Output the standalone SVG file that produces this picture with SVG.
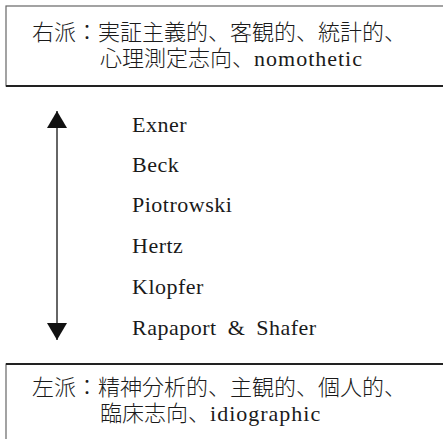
<svg xmlns="http://www.w3.org/2000/svg" width="443" height="439" viewBox="0 0 443 439">
  <style>
    .box { fill: #ffffff; stroke: #666666; stroke-width: 1.2; }
    .edge { stroke: #222222; stroke-width: 2; }
    .t { font-family: "Liberation Serif", "Noto Sans CJK JP", serif; font-size: 22px; font-weight: 300; fill: #1a1a1a; }
    .lat { letter-spacing: 1px; font-weight: 400; }
    .name { font-family: "Liberation Serif", "Noto Sans CJK JP", serif; font-size: 22px; fill: #1a1a1a; letter-spacing: 0.5px; }
    .conn { stroke: #333333; stroke-width: 1.5; fill: none; }
  </style>
  <defs>
    <marker id="head" markerUnits="userSpaceOnUse" markerWidth="18" markerHeight="20" viewBox="0 0 18 20" refX="17" refY="10" orient="auto-start-reverse">
      <path d="M0,0 L17,10 L0,20 Z" fill="#111111"/>
    </marker>
  </defs>
  <rect width="443" height="439" fill="#ffffff"/>

  <g id="node-right">
    <rect class="box" x="6" y="6" width="445" height="80"/>
    <line class="edge" x1="6" y1="86" x2="443" y2="86"/>
    <text class="t" x="32" y="40">右派：実証主義的、客観的、統計的、</text>
    <text class="t" x="100" y="66">心理測定志向、<tspan class="lat">nomothetic</tspan></text>
  </g>

  <g id="connectors">
    <line class="conn" x1="57" y1="111" x2="57" y2="340" marker-start="url(#head)" marker-end="url(#head)"/>
  </g>

  <g id="names">
    <text class="name" x="132" y="132">Exner</text>
    <text class="name" x="132" y="172">Beck</text>
    <text class="name" x="132" y="212">Piotrowski</text>
    <text class="name" x="132" y="253">Hertz</text>
    <text class="name" x="132" y="294">Klopfer</text>
    <text class="name" x="132" y="335" word-spacing="5">Rapaport &amp; Shafer</text>
  </g>

  <g id="node-left">
    <rect class="box" x="6" y="364" width="445" height="90"/>
    <line class="edge" x1="6" y1="364" x2="443" y2="364"/>
    <text class="t" x="32" y="395">左派：精神分析的、主観的、個人的、</text>
    <text class="t" x="100" y="421">臨床志向、<tspan class="lat">idiographic</tspan></text>
  </g>
</svg>
